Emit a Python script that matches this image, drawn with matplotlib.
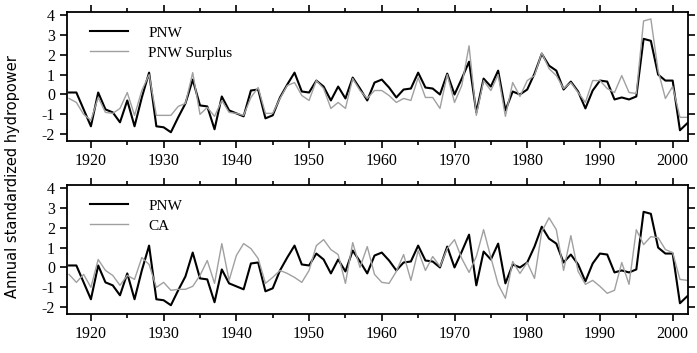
import numpy as np
import matplotlib
matplotlib.use("Agg")
import matplotlib.pyplot as plt
from matplotlib.ticker import MultipleLocator

plt.rcParams["axes.unicode_minus"] = False

years = np.arange(1917, 2003)

# PNW annual standardized hydropower (black, both panels)
pnw = [0.1, 0.1, -0.75, -1.6, 0.1, -0.75, -0.9, -1.4, -0.3, -1.6,
       -0.15, 1.1, -1.6, -1.65, -1.9, -1.15, -0.45, 0.75, -0.55, -0.6,
       -1.75, -0.1, -0.8, -0.95, -1.1, 0.2, 0.25, -1.2, -1.05, -0.15,
       0.5, 1.1, 0.15, 0.1, 0.7, 0.4, -0.3, 0.4, -0.2, 0.85,
       0.3, -0.3, 0.6, 0.75, 0.35, -0.15, 0.25, 0.3, 1.1, 0.35,
       0.3, 0.0, 1.05, 0.0, 0.8, 1.65, -0.9, 0.8, 0.4, 1.2,
       -0.8, 0.15, 0.0, 0.25, 1.05, 2.05, 1.45, 1.2, 0.25, 0.65,
       0.15, -0.7, 0.2, 0.7, 0.65, -0.25, -0.15, -0.25, -0.1, 2.8,
       2.7, 1.0, 0.7, 0.7, -1.8, -1.45]

# PNW surplus (grey, top panel)
surplus = [-0.2, -0.4, -1.0, -1.3, -0.15, -0.9, -0.95, -0.7, 0.1, -1.05,
           0.2, 1.0, -1.05, -1.05, -1.05, -0.6, -0.45, 1.1, -1.0, -0.65,
           -1.1, -0.3, -0.9, -0.95, -1.05, -0.15, 0.35, -0.95, -0.95, -0.2,
           0.45, 0.6, -0.05, -0.3, 0.7, 0.3, -0.7, -0.4, -0.7, 0.8,
           0.2, -0.2, 0.2, 0.2, -0.05, -0.4, -0.2, -0.3, 0.85, -0.15,
           -0.15, -0.7, 1.0, -0.4, 0.45, 2.45, -1.05, 0.7, 0.2, 1.0,
           -1.1, 0.6, -0.1, 0.7, 0.95, 2.1, 1.3, 0.95, 0.3, 0.6,
           0.1, -0.4, 0.7, 0.7, 0.3, 0.1, 0.95, 0.1, 0.05, 3.7,
           3.8, 1.2, -0.2, 0.4, -1.15, -1.15]

# CA (grey, bottom panel)
ca = [-0.35, -0.75, -0.35, -1.0, 0.4, -0.15, -0.4, -0.9, -0.4, -0.6,
      0.5, 0.15, -1.0, -0.75, -1.15, -1.1, -1.1, -0.95, -0.4, 0.35,
      -0.8, 1.2, -0.65, 0.6, 1.2, 0.95, 0.45, -0.8, -0.5, -0.15,
      -0.3, -0.5, -0.75, -0.15, 1.1, 1.4, 0.9, 0.65, -0.8, 1.25,
      0.0, 1.05, -0.35, -0.75, -0.8, -0.2, 0.65, -0.65, 0.85, -0.15,
      0.55, 0.05, 0.95, 1.4, 0.45, -0.25, 0.55, 1.9, 0.5, -0.85,
      -1.55, 0.3, -0.3, 0.25, -0.55, 1.8, 2.5, 1.9, -0.15, 1.6,
      -0.2, -0.85, -0.65, -0.95, -1.3, -1.15, 0.25, -0.85, 1.9, 1.15,
      1.55, 1.5, 0.9, 0.75, -0.6, -0.65]

panels = [("PNW Surplus", surplus), ("CA", ca)]

serif = "Liberation Serif"
fig = plt.figure(figsize=(6.97, 3.53), dpi=100)
boxes = [[0.096, 0.600, 0.891, 0.366], [0.096, 0.110, 0.891, 0.366]]

for box, (label, other) in zip(boxes, panels):
    ax = fig.add_axes(box)
    ax.plot(years, pnw, color="black", lw=1.5, label="PNW")
    ax.plot(years, other, color="#a0a0a0", lw=1.0, label=label)
    ax.set_xlim(1916.7, 2002.1)
    ax.set_ylim(-2.35, 4.15)
    ax.xaxis.set_major_locator(MultipleLocator(10))
    ax.xaxis.set_minor_locator(MultipleLocator(5))
    ax.yaxis.set_major_locator(MultipleLocator(1))
    ax.tick_params(which="both", direction="out", top=True, right=True,
                   width=1.2, labelsize=11.5)
    ax.tick_params(which="major", length=5)
    ax.tick_params(which="minor", length=3)
    for s in ax.spines.values():
        s.set_linewidth(1.3)
    for t in ax.get_xticklabels() + ax.get_yticklabels():
        t.set_family(serif)
    ax.legend(loc="upper left", frameon=False, handlelength=2.5,
              handletextpad=1.3, labelspacing=0.42,
              bbox_to_anchor=(0.02, 0.975), borderaxespad=0.3,
              prop={"family": serif, "size": 11})

fig.text(0.018, 0.5, "Annual standardized hydropower", rotation=90,
         va="center", ha="center", fontsize=10.5, family="DejaVu Sans")

fig.savefig("out.png", dpi=100)
